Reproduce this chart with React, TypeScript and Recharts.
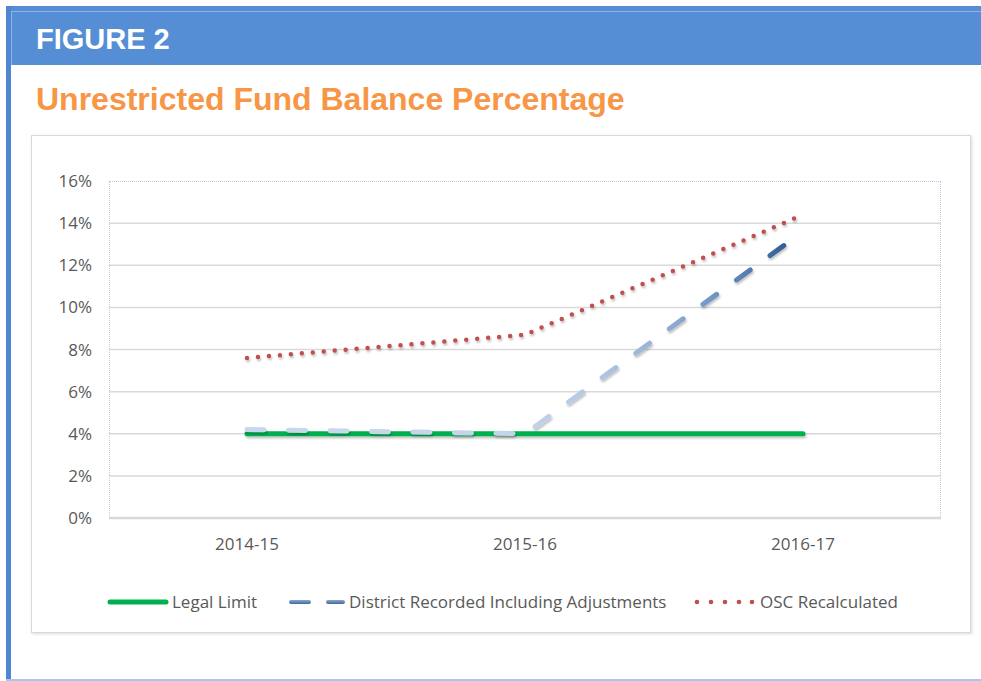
import React from "react";
import {
  LineChart,
  Line,
  XAxis,
  YAxis,
  CartesianGrid,
  Legend,
} from "recharts";

const categories = ["2014-15", "2015-16", "2016-17"];
const legalLimit = [4, 4, 4];
const districtRecorded = [4.2, 4.0, 13.6];
const oscRecalculated = [7.6, 8.7, 14.4];
const yTicks = [0, 2, 4, 6, 8, 10, 12, 14, 16];
const gridValues = [2, 4, 6, 8, 10, 12, 14];

const seriesNames = [
  "Legal Limit",
  "District Recorded Including Adjustments",
  "OSC Recalculated",
];

const data = categories.map((year, i) => ({
  year,
  legal: legalLimit[i],
  district: districtRecorded[i],
  osc: oscRecalculated[i],
}));

const FONT = "'Open Sans', 'DejaVu Sans', sans-serif";
const TEXT = "#595959";

const renderLegend = () => (
  <div style={{ position: "relative", width: 940, height: 60, fontFamily: FONT }}>
    <svg width={940} height={60} style={{ position: "absolute", left: 0, top: 0 }}>
      <defs>
        <linearGradient id="legendBlue" gradientUnits="userSpaceOnUse" x1="0" y1="41" x2="0" y2="47">
          <stop offset="0" stopColor="#9db6d8" />
          <stop offset="1" stopColor="#2f5a92" />
        </linearGradient>
      </defs>
      <line x1={79} y1={44} x2={135} y2={44} stroke="#00b050" strokeWidth={5} strokeLinecap="round" />
      <line x1={260} y1={44} x2={278} y2={44} stroke="url(#legendBlue)" strokeWidth={4} strokeLinecap="round" />
      <line x1={297} y1={44} x2={312} y2={44} stroke="url(#legendBlue)" strokeWidth={4} strokeLinecap="round" />
      {[666, 680, 694, 708, 721].map((x) => (
        <circle key={x} cx={x} cy={44} r={2.3} fill="#c0504d" />
      ))}
    </svg>
    {[141, 318, 729].map((x, i) => (
      <span
        key={x}
        style={{
          position: "absolute",
          left: x,
          top: 32,
          fontSize: 17,
          lineHeight: "24px",
          color: TEXT,
          whiteSpace: "nowrap",
        }}
      >
        {seriesNames[i]}
      </span>
    ))}
  </div>
);

export default function App() {
  return (
    <div
      style={{
        position: "absolute",
        left: 0,
        top: 0,
        width: 981,
        height: 681,
        background: "#fff",
        overflow: "hidden",
        fontFamily: "'Liberation Sans', Arial, sans-serif",
      }}
    >
      {/* frame and header */}
      <div style={{ position: "absolute", left: 6, top: 6, width: 5, height: 675, background: "#4f86d1" }} />
      <div style={{ position: "absolute", left: 11, top: 6, width: 970, height: 59, background: "#558ed5" }} />
      <div
        style={{
          position: "absolute",
          left: 11,
          top: 11,
          width: 970,
          height: 54,
          borderLeft: "1px solid #8fb3e4",
          borderTop: "1px solid #8fb3e4",
          boxSizing: "border-box",
        }}
      />
      <div
        style={{
          position: "absolute",
          left: 36,
          top: 25,
          fontSize: 29,
          lineHeight: "29px",
          fontWeight: "bold",
          color: "#fff",
        }}
      >
        FIGURE 2
      </div>
      <div
        style={{
          position: "absolute",
          left: 36,
          top: 83,
          fontSize: 32,
          lineHeight: "32px",
          fontWeight: "bold",
          color: "#f79646",
          whiteSpace: "nowrap",
        }}
      >
        Unrestricted Fund Balance Percentage
      </div>
      <div style={{ position: "absolute", left: 6, top: 679, width: 975, height: 2, background: "#a9c5eb" }} />

      {/* chart panel */}
      <div
        style={{
          position: "absolute",
          left: 31,
          top: 135,
          width: 940,
          height: 498,
          border: "1px solid #d9d9d9",
          boxSizing: "border-box",
          boxShadow: "1px 1px 3px rgba(0,0,0,0.15)",
        }}
      />
      {/* plot area outline */}
      <div
        style={{
          position: "absolute",
          left: 109,
          top: 181,
          width: 832,
          height: 338,
          border: "1px dotted #b6c9e4",
          boxSizing: "border-box",
        }}
      />

      <div style={{ position: "absolute", left: 31, top: 135 }}>
        <LineChart
          width={940}
          height={498}
          data={data}
          margin={{ top: 46, right: 30, left: 18, bottom: 15 }}
        >
          <defs>
            <linearGradient id="districtGrad" x1="0" y1="0" x2="1" y2="0">
              <stop offset="0" stopColor="#c8d8ec" />
              <stop offset="0.5" stopColor="#c3d4ea" />
              <stop offset="0.62" stopColor="#b3c8e3" />
              <stop offset="0.73" stopColor="#99b3d6" />
              <stop offset="0.82" stopColor="#7b9cc8" />
              <stop offset="0.91" stopColor="#5279ad" />
              <stop offset="1" stopColor="#26508a" />
            </linearGradient>
            <filter
              id="lineShadow"
              filterUnits="userSpaceOnUse"
              x="0"
              y="0"
              width="940"
              height="498"
            >
              <feDropShadow dx="1" dy="2" stdDeviation="1.2" floodColor="#000" floodOpacity="0.25" />
            </filter>
          </defs>
          <CartesianGrid
            vertical={false}
            stroke="#d9d9d9"
            strokeWidth={1.5}
            horizontalValues={gridValues}
          />
          <XAxis
            dataKey="year"
            padding={{ left: 138, right: 138 }}
            height={40}
            tickLine={false}
            tickSize={0}
            tickMargin={20}
            axisLine={{ stroke: "#d9d9d9", strokeWidth: 2.5 }}
            tick={{ fill: TEXT, fontSize: 17, fontFamily: FONT }}
          />
          <YAxis
            width={60}
            domain={[0, 16]}
            ticks={yTicks}
            interval={0}
            axisLine={false}
            tickLine={false}
            tickSize={0}
            tickMargin={17}
            tickFormatter={(v) => `${v}%`}
            tick={{ fill: TEXT, fontSize: 17, fontFamily: FONT }}
          />
          <Legend
            verticalAlign="bottom"
            height={60}
            content={renderLegend}
            wrapperStyle={{ left: 0, width: 940 }}
          />
          <Line
            name={seriesNames[0]}
            dataKey="legal"
            type="linear"
            stroke="#00b050"
            strokeWidth={5}
            strokeLinecap="round"
            dot={false}
            activeDot={false}
            filter="url(#lineShadow)"
            isAnimationActive={false}
          />
          <Line
            name={seriesNames[1]}
            dataKey="district"
            type="linear"
            stroke="url(#districtGrad)"
            strokeWidth={5}
            strokeLinecap="round"
            strokeLinejoin="round"
            strokeDasharray="17 24.5"
            dot={false}
            activeDot={false}
            filter="url(#lineShadow)"
            isAnimationActive={false}
          />
          <Line
            name={seriesNames[2]}
            dataKey="osc"
            type="linear"
            stroke="#c0504d"
            strokeWidth={4.5}
            strokeLinecap="round"
            strokeDasharray="0 11"
            dot={false}
            activeDot={false}
            filter="url(#lineShadow)"
            isAnimationActive={false}
          />
        </LineChart>
      </div>
    </div>
  );
}
